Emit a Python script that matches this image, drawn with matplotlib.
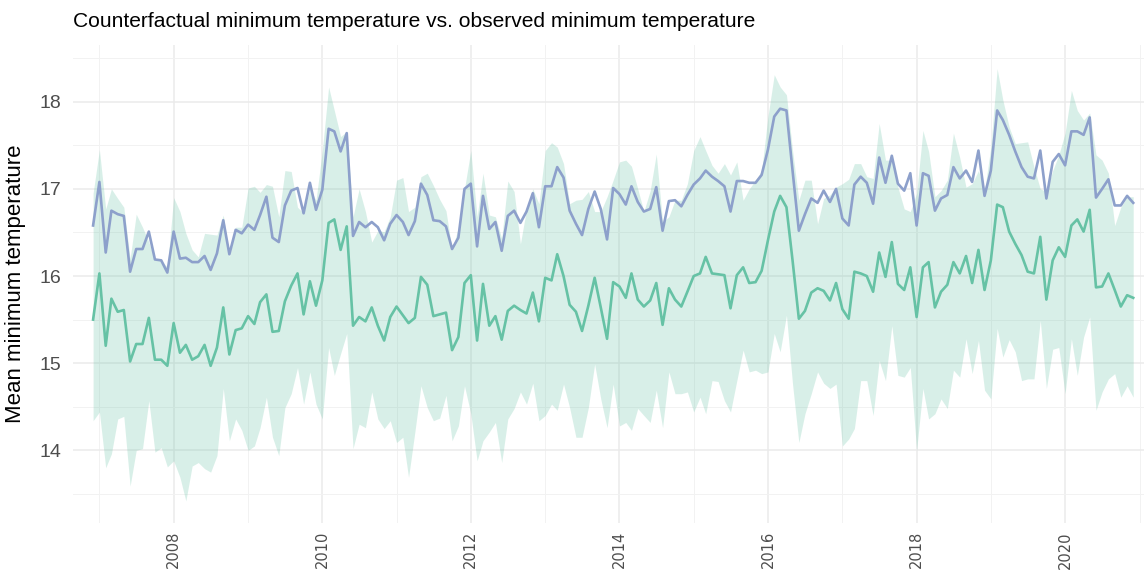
import numpy as np
import pandas as pd
import matplotlib
matplotlib.use('Agg')
import matplotlib.pyplot as plt
import matplotlib.dates as mdates
from matplotlib.ticker import FixedLocator

# Monthly means, Dec 2006 - Dec 2020
observed = [
    16.58, 17.08, 16.27, 16.75, 16.71, 16.69, 16.05, 16.31, 16.31, 16.51, 16.19, 16.18, 16.04, 16.51, 16.20,
    16.21, 16.16, 16.16, 16.23, 16.07, 16.26, 16.64, 16.25, 16.53, 16.49, 16.59, 16.53, 16.70, 16.91,
    16.44, 16.39, 16.81, 16.98, 17.01, 16.72, 17.07, 16.76, 16.99, 17.69, 17.66, 17.43, 17.64, 16.46,
    16.62, 16.56, 16.62, 16.56, 16.41, 16.60, 16.70, 16.62, 16.47, 16.63, 17.06, 16.93, 16.64, 16.63,
    16.57, 16.31, 16.44, 17.00, 17.06, 16.34, 16.92, 16.54, 16.62, 16.29, 16.69, 16.75, 16.61, 16.74,
    16.95, 16.56, 17.03, 17.03, 17.25, 17.13, 16.75, 16.60, 16.47, 16.77, 16.97, 16.77, 16.42, 17.01,
    16.94, 16.82, 17.03, 16.85, 16.74, 16.77, 17.02, 16.52, 16.86, 16.87, 16.80, 16.93, 17.05, 17.12,
    17.21, 17.14, 17.09, 17.03, 16.74, 17.09, 17.09, 17.07, 17.07, 17.16, 17.45, 17.83, 17.92, 17.90,
    17.21, 16.52, 16.71, 16.89, 16.84, 16.98, 16.85, 17.00, 16.66, 16.58, 17.05, 17.14, 17.07, 16.83,
    17.36, 17.07, 17.38, 17.06, 16.98, 17.18, 16.58, 17.18, 17.15, 16.75, 16.89, 16.93, 17.25, 17.12,
    17.21, 17.08, 17.44, 16.92, 17.21, 17.90, 17.79, 17.62, 17.43, 17.25, 17.14, 17.12, 17.44, 16.89,
    17.31, 17.40, 17.27, 17.66, 17.66, 17.62, 17.82, 16.90, 17.00, 17.11, 16.81, 16.81, 16.92, 16.84,
]

counterfactual = [
    15.50, 16.03, 15.20, 15.74, 15.59, 15.61, 15.02, 15.22, 15.22, 15.52, 15.04, 15.04, 14.97, 15.46, 15.12,
    15.21, 15.04, 15.08, 15.21, 14.97, 15.18, 15.64, 15.10, 15.38, 15.40, 15.54, 15.45, 15.70, 15.79,
    15.36, 15.37, 15.71, 15.89, 16.03, 15.56, 15.94, 15.66, 15.95, 16.61, 16.65, 16.30, 16.57, 15.43,
    15.53, 15.48, 15.64, 15.43, 15.26, 15.53, 15.65, 15.55, 15.46, 15.52, 15.99, 15.90, 15.54, 15.56,
    15.58, 15.15, 15.30, 15.92, 16.01, 15.26, 15.91, 15.43, 15.54, 15.27, 15.60, 15.66, 15.61, 15.57,
    15.81, 15.48, 15.98, 15.95, 16.25, 16.00, 15.67, 15.59, 15.37, 15.66, 15.98, 15.64, 15.28, 15.93,
    15.88, 15.75, 16.03, 15.73, 15.65, 15.72, 15.92, 15.44, 15.86, 15.73, 15.65, 15.82, 16.00, 16.03,
    16.22, 16.03, 16.02, 16.01, 15.63, 16.01, 16.10, 15.92, 15.93, 16.06, 16.41, 16.74, 16.92, 16.79,
    16.18, 15.51, 15.60, 15.81, 15.86, 15.83, 15.72, 15.92, 15.62, 15.51, 16.05, 16.03, 16.00, 15.82,
    16.27, 15.99, 16.39, 15.91, 15.84, 16.10, 15.53, 16.10, 16.16, 15.64, 15.82, 15.90, 16.16, 16.03,
    16.23, 15.92, 16.30, 15.84, 16.18, 16.82, 16.79, 16.51, 16.37, 16.24, 16.05, 16.03, 16.45, 15.73,
    16.18, 16.33, 16.22, 16.58, 16.65, 16.51, 16.76, 15.87, 15.88, 16.03, 15.84, 15.65, 15.78, 15.75,
]

cf_upper = [
    16.95, 17.45, 16.77, 17.00, 16.89, 16.79, 16.20, 16.71, 16.56, 16.39, 16.18, 16.18, 16.10, 16.90, 16.74,
    16.49, 16.30, 16.22, 16.49, 16.48, 16.47, 16.70, 16.22, 16.56, 16.56, 17.01, 17.03, 16.96, 17.05,
    17.03, 16.68, 17.21, 17.20, 16.79, 16.72, 17.00, 16.87, 17.44, 18.17, 17.90, 17.60, 17.66, 16.68,
    17.00, 16.74, 16.39, 16.52, 16.51, 16.68, 17.10, 17.13, 16.74, 16.79, 17.14, 17.18, 17.04, 16.88,
    16.75, 16.30, 16.56, 17.00, 17.44, 16.68, 17.18, 16.70, 16.68, 16.43, 17.09, 16.97, 16.37, 16.77,
    17.00, 16.83, 17.44, 17.53, 17.48, 17.29, 16.83, 16.87, 16.88, 16.97, 16.74, 16.74, 16.91, 17.10,
    17.31, 17.33, 17.26, 17.00, 16.74, 16.98, 17.40, 16.62, 16.68, 16.87, 16.87, 17.06, 17.44, 17.60,
    17.44, 17.27, 17.18, 17.29, 17.16, 17.31, 16.87, 17.00, 17.10, 17.21, 17.83, 18.31, 18.17, 18.08,
    17.44, 16.87, 17.10, 17.10, 16.60, 16.89, 16.93, 17.02, 17.06, 17.11, 17.29, 17.29, 17.14, 17.12,
    17.75, 17.33, 17.33, 17.02, 16.77, 16.74, 16.95, 17.67, 17.43, 16.91, 16.98, 17.10, 17.64, 17.36,
    17.02, 17.06, 17.21, 16.98, 17.48, 18.38, 18.02, 17.71, 17.52, 17.53, 17.54, 17.25, 17.00, 16.97,
    17.21, 17.39, 17.64, 18.13, 17.90, 17.79, 17.87, 17.39, 17.33, 17.18, 16.58, 16.79, 16.91, 16.91,
]

cf_lower = [
    14.34, 14.44, 13.80, 13.96, 14.36, 14.39, 13.59, 14.00, 14.02, 14.57, 13.98, 14.03, 13.81, 13.88, 13.69,
    13.42, 13.82, 13.86, 13.79, 13.75, 13.94, 14.71, 14.11, 14.36, 14.23, 14.00, 14.05, 14.26, 14.61,
    14.15, 13.94, 14.49, 14.65, 14.95, 14.53, 14.90, 14.53, 14.36, 15.18, 14.86, 15.11, 15.34, 14.02,
    14.30, 14.26, 14.67, 14.36, 14.25, 14.34, 14.09, 14.15, 13.69, 14.21, 14.74, 14.49, 14.34, 14.37,
    14.63, 14.11, 14.28, 14.74, 14.42, 13.88, 14.11, 14.21, 14.32, 13.86, 14.36, 14.48, 14.67, 14.53,
    14.77, 14.34, 14.40, 14.53, 14.46, 14.76, 14.49, 14.15, 14.15, 14.49, 14.99, 14.59, 14.26, 14.76,
    14.28, 14.32, 14.23, 14.48, 14.40, 14.32, 14.69, 14.26, 14.90, 14.65, 14.65, 14.67, 14.44, 14.61,
    14.42, 14.80, 14.79, 14.57, 14.44, 14.80, 15.15, 14.90, 14.92, 14.88, 14.90, 15.34, 15.13, 15.55,
    14.76, 14.09, 14.42, 14.65, 14.90, 14.77, 14.71, 14.76, 14.05, 14.13, 14.25, 14.80, 14.80, 14.40,
    15.03, 14.80, 15.43, 14.86, 14.84, 14.95, 14.00, 14.71, 14.36, 14.42, 14.59, 14.48, 14.92, 14.84,
    15.28, 14.88, 15.26, 14.69, 14.59, 15.40, 15.07, 15.27, 15.13, 14.80, 14.82, 14.82, 15.49, 14.71,
    15.16, 15.18, 14.65, 15.28, 14.86, 15.30, 15.53, 14.46, 14.67, 14.82, 14.88, 14.61, 14.74, 14.61,
]

dates = pd.date_range('2006-12-01', periods=len(observed), freq='MS')

plt.rcParams['font.family'] = ['Liberation Sans', 'DejaVu Sans']

fig = plt.figure(figsize=(11.44, 5.78), dpi=100)
ax = fig.add_axes([0.0636, 0.0957, 0.9364, 0.8263])

ax.fill_between(dates, cf_lower, cf_upper, color='#66C2A5', alpha=0.25, linewidth=0)
ax.plot(dates, observed, color='#8DA0CB', linewidth=1.9)
ax.plot(dates, counterfactual, color='#66C2A5', linewidth=1.9)

ax.set_xlim(pd.Timestamp('2006-08-23'), pd.Timestamp('2021-01-23'))
ax.set_ylim(13.17, 18.65)

# grid like ggplot's theme_minimal
ax.xaxis.set_major_locator(mdates.YearLocator(2))
ax.xaxis.set_major_formatter(mdates.DateFormatter('%Y'))
odd_years = [mdates.date2num(pd.Timestamp(f'{y}-01-01')) for y in range(2007, 2022, 2)]
ax.xaxis.set_minor_locator(FixedLocator(odd_years))
ax.yaxis.set_major_locator(FixedLocator([14, 15, 16, 17, 18]))
ax.yaxis.set_minor_locator(FixedLocator([13.5, 14.5, 15.5, 16.5, 17.5, 18.5]))
ax.grid(which='major', color='#ebebeb', linewidth=1.1)
ax.grid(which='minor', color='#f2f2f2', linewidth=0.7)
ax.set_axisbelow(True)

for s in ax.spines.values():
    s.set_visible(False)
ax.tick_params(which='both', length=0)
ax.tick_params(axis='y', labelsize=14, labelcolor='#4d4d4d', pad=8)
ax.tick_params(axis='x', labelsize=10.5, labelcolor='#4d4d4d', pad=6)
for lbl in ax.get_xticklabels():
    lbl.set_rotation(90)
    lbl.set_fontfamily('DejaVu Sans')

ax.set_ylabel('Mean minimum temperature', fontsize=16, labelpad=10)
fig.text(0.0638, 0.962, 'Counterfactual minimum temperature vs. observed minimum temperature',
         fontsize=15.1, ha='left', va='center')

fig.savefig('out.png', dpi=100, facecolor='white')
